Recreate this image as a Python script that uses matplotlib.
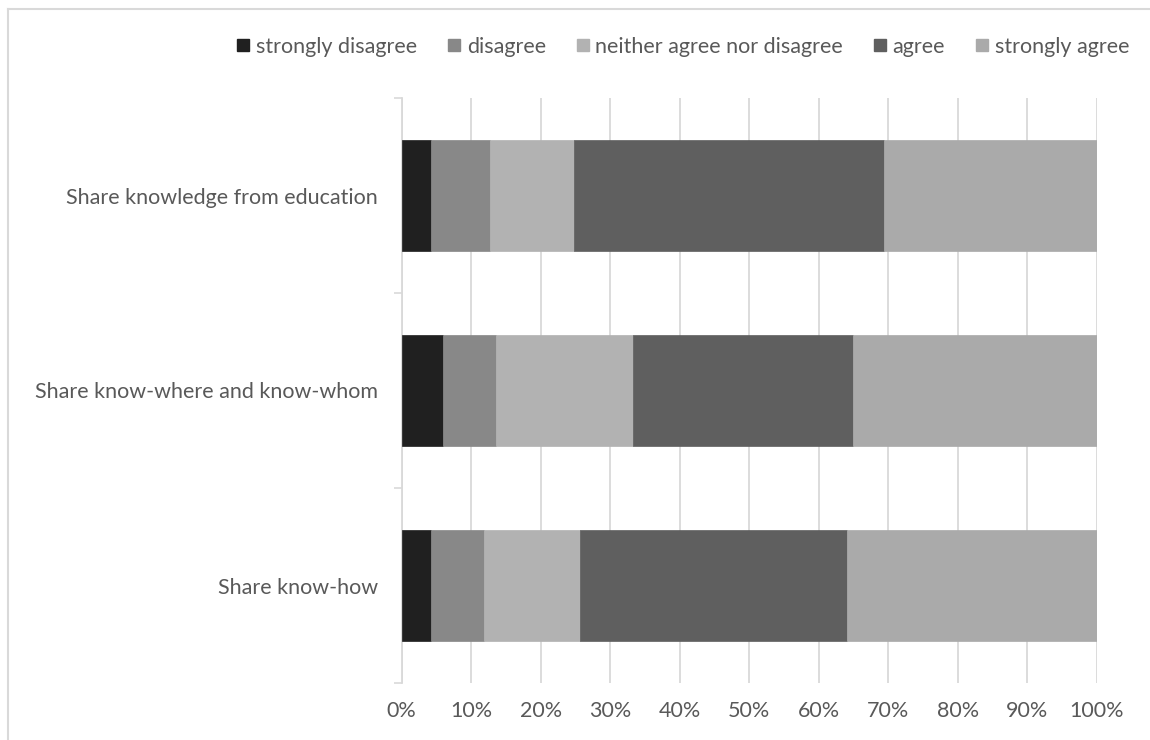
import matplotlib.pyplot as plt
from matplotlib.lines import Line2D
import numpy as np

categories = ["Share know-how", "Share know-where and know-whom", "Share knowledge from education"]
levels = ["strongly disagree", "disagree", "neither agree nor disagree", "agree", "strongly agree"]
# percentages per category (bottom row first)
strongly_disagree = [4.2, 5.9, 4.2]
disagree = [7.6, 7.7, 8.5]
neither = [13.8, 19.7, 12.1]
agree = [38.5, 31.6, 44.5]
strongly_agree = [35.9, 35.1, 30.7]
colors = ["#202020", "#888888", "#b2b2b2", "#5f5f5f", "#aaaaaa"]
xticks = [0, 10, 20, 30, 40, 50, 60, 70, 80, 90, 100]

plt.rcParams['font.family'] = ['Lato', 'DejaVu Sans']
txt = "#595959"
grid = "#d9d9d9"
fs = 15.5

fig = plt.figure(figsize=(11.5, 7.4), dpi=100)
ax = fig.add_axes([401.7 / 1150, 1 - 683 / 740, (1097 - 401.7) / 1150, (683 - 98) / 740])

series = [strongly_disagree, disagree, neither, agree, strongly_agree]
y = np.arange(len(categories))
left = np.zeros(len(categories))
for vals, col, name in zip(series, colors, levels):
    ax.barh(y, vals, left=left, height=0.57, color=col, edgecolor=col, linewidth=0.5, label=name, zorder=3)
    left += np.array(vals)

ax.set_xlim(0, 100)
ax.set_ylim(-0.5, len(categories) - 0.5)
ax.set_xticks(xticks)
ax.set_xticklabels([f"{t}%" for t in xticks], fontsize=fs, color=txt)
ax.set_yticks(y)
ax.set_yticklabels(categories, fontsize=fs, color=txt)
ax.set_yticks(np.arange(-0.5, len(categories)), minor=True)
ax.tick_params(axis='y', which='major', length=0, pad=17)
ax.tick_params(axis='y', which='minor', length=6, color=grid, width=1.2)
ax.tick_params(axis='x', length=0, pad=13)
ax.grid(axis='x', color=grid, linewidth=1.3, zorder=0)
for s in ['top', 'right', 'bottom']:
    ax.spines[s].set_visible(False)
ax.spines['left'].set_color(grid)
ax.spines['left'].set_linewidth(1.3)

handles = [Line2D([], [], marker='s', linestyle='', markersize=9, color=c) for c in colors]
fig.legend(handles, levels, loc='center right', bbox_to_anchor=(1140 / 1150, 1 - 47 / 740),
           ncol=5, frameon=False, fontsize=fs, labelcolor=txt, handletextpad=0.2,
           columnspacing=1.3, handlelength=0.8, borderpad=0)

# outer chart border
fig.add_artist(Line2D([8 / 1150, 8 / 1150], [0, 1 - 9 / 740], color=grid, linewidth=1.5))
fig.add_artist(Line2D([8 / 1150, 1], [1 - 9 / 740, 1 - 9 / 740], color=grid, linewidth=1.5))

fig.savefig("out.png", dpi=100)
